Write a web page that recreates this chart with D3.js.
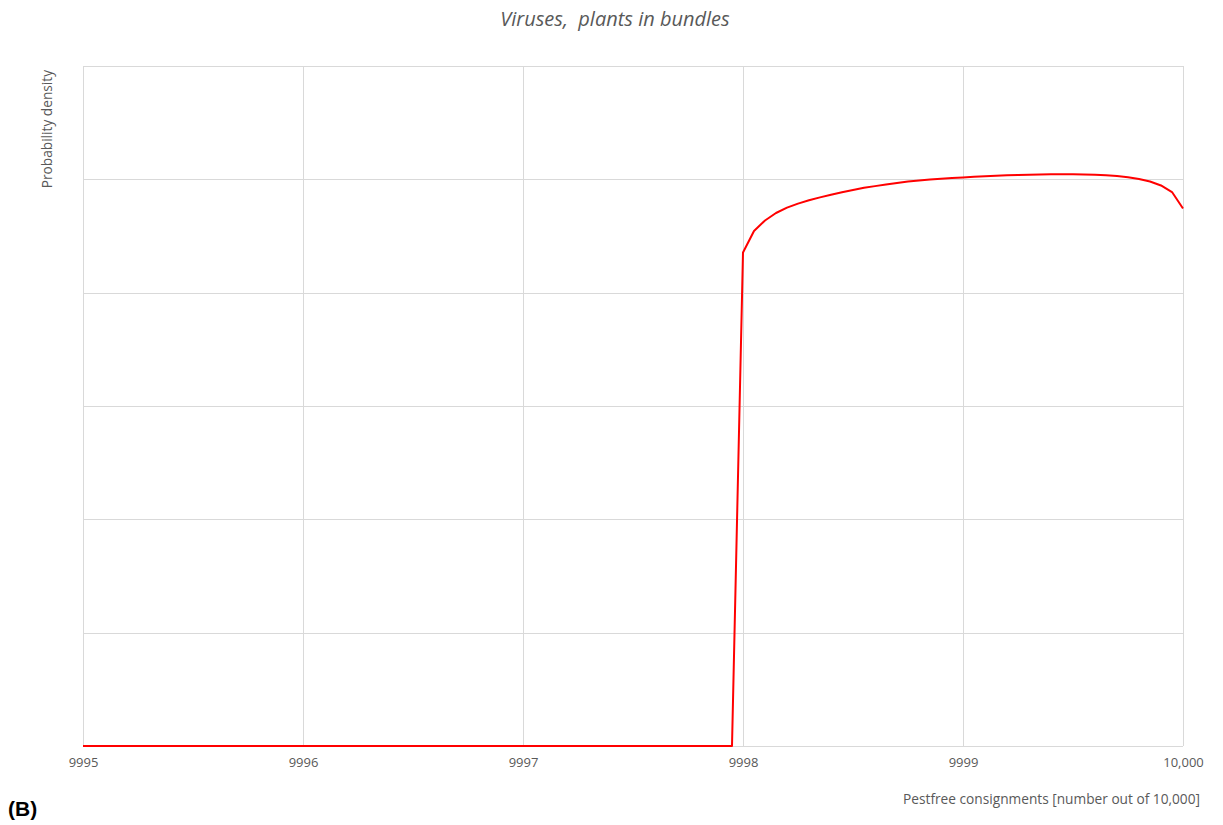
<!DOCTYPE html>
<html>
<head>
<meta charset="utf-8">
<script src="https://cdn.jsdelivr.net/npm/d3@7"></script>
<style>
  html, body { margin: 0; padding: 0; background: #ffffff; }
  svg { display: block; }
</style>
</head>
<body>
<div id="chart"></div>
<script>
// ---- data ----
const xTicks = [9995, 9996, 9997, 9998, 9999, 10000];
const yGrid = [0, 1, 2, 3, 4, 5, 6];
// pestfree consignments (number out of 10,000)
const xValues = [
  9995, 9997.95,
  9998.00, 9998.05, 9998.10, 9998.15, 9998.20, 9998.25, 9998.30, 9998.35, 9998.40, 9998.45,
  9998.50, 9998.55, 9998.60, 9998.65, 9998.70, 9998.75, 9998.80, 9998.85, 9998.90, 9998.95,
  9999.00, 9999.05, 9999.10, 9999.15, 9999.20, 9999.25, 9999.30, 9999.35, 9999.40, 9999.45,
  9999.50, 9999.55, 9999.60, 9999.65, 9999.70, 9999.75, 9999.80, 9999.85, 9999.90, 9999.95,
  10000.00
];
// probability density (arbitrary units, no axis labels in source)
const densityValues = [
  0, 0,
  4.355, 4.544, 4.637, 4.703, 4.750, 4.786, 4.815, 4.841, 4.864, 4.886,
  4.906, 4.925, 4.940, 4.954, 4.968, 4.980, 4.990, 4.998, 5.005, 5.011,
  5.017, 5.022, 5.027, 5.031, 5.035, 5.038, 5.041, 5.043, 5.044, 5.045,
  5.044, 5.043, 5.040, 5.036, 5.029, 5.018, 5.003, 4.981, 4.946, 4.888,
  4.743
];
const titleText = "Viruses,  plants in bundles";
const xTitle = "Pestfree consignments [number out of 10,000]";
const yTitle = "Probability density";
const panelLabel = "(B)";

// ---- layout ----
const W = 1223, H = 825;
const m = { left: 83, right: 40, top: 66, bottom: 79 };
const iw = W - m.left - m.right, ih = H - m.top - m.bottom;
const font = "'Open Sans', 'Liberation Sans', sans-serif";
const textCol = "#595959";
const gridCol = "#d9d9d9";

const svg = d3.select("#chart").append("svg").attr("width", W).attr("height", H);
const g = svg.append("g").attr("transform", `translate(${m.left},${m.top})`);

const x = d3.scaleLinear().domain([9995, 10000]).range([0, iw]);
const y = d3.scaleLinear().domain([0, 6]).range([ih, 0]);

// horizontal gridlines
g.append("g").selectAll("line").data(yGrid).join("line")
  .attr("x1", 0).attr("x2", iw)
  .attr("y1", d => Math.round(y(d)) + 0.5).attr("y2", d => Math.round(y(d)) + 0.5)
  .attr("stroke", gridCol).attr("stroke-width", 1);

// vertical gridlines
g.append("g").selectAll("line").data(xTicks).join("line")
  .attr("y1", 0).attr("y2", ih)
  .attr("x1", d => Math.round(x(d)) + 0.5).attr("x2", d => Math.round(x(d)) + 0.5)
  .attr("stroke", gridCol).attr("stroke-width", 1);

// x axis labels
const fmt = d => d >= 10000 ? d3.format(",")(d) : String(d);
const xAxis = g.append("g").attr("transform", `translate(0,${ih})`)
  .call(d3.axisBottom(x).tickValues(xTicks).tickFormat(fmt).tickSize(0).tickPadding(12));
xAxis.select(".domain").remove();
xAxis.selectAll("text").attr("fill", textCol).style("font-family", font).style("font-size", "13px");

// line
const pts = xValues.map((v, i) => [v, densityValues[i]]);
g.append("path").datum(pts)
  .attr("fill", "none").attr("stroke", "#ff0000").attr("stroke-width", 2)
  .attr("stroke-linejoin", "round")
  .attr("d", d3.line().x(d => x(d[0])).y(d => y(d[1])));

// title
svg.append("text").attr("x", 615).attr("y", 26).attr("text-anchor", "middle")
  .attr("fill", textCol).style("font-family", font).style("font-size", "20px")
  .style("font-style", "italic").style("white-space", "pre").attr("xml:space", "preserve")
  .text(titleText);

// y title
svg.append("text").attr("transform", "translate(52,70) rotate(-90)")
  .attr("text-anchor", "end").attr("fill", textCol)
  .style("font-family", font).style("font-size", "13.7px").text(yTitle);

// x title
svg.append("text").attr("x", 1200).attr("y", 804).attr("text-anchor", "end")
  .attr("fill", textCol).style("font-family", font).style("font-size", "13.7px").text(xTitle);

// panel label
svg.append("text").attr("x", 8).attr("y", 816)
  .attr("fill", "#000").style("font-family", "'Liberation Sans', Arial, sans-serif")
  .style("font-size", "21px").style("font-weight", "bold").text(panelLabel);
</script>
</body>
</html>
